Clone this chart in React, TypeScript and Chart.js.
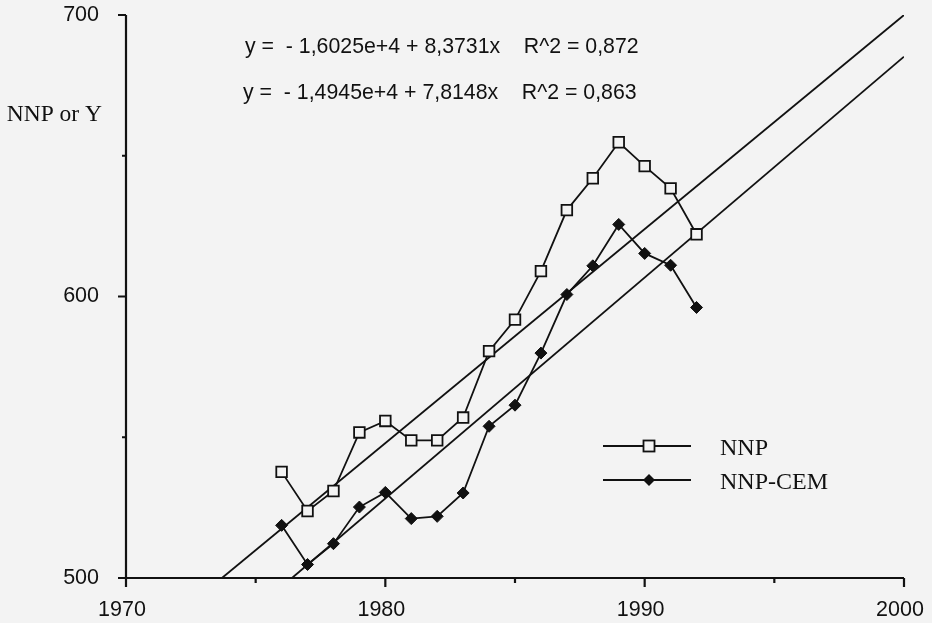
import React, { useEffect, useRef } from "react";
import { Chart, registerables } from "chart.js";

Chart.register(...registerables);

// ---- data ----
const years = [1976, 1977, 1978, 1979, 1980, 1981, 1982, 1983, 1984, 1985, 1986, 1987, 1988, 1989, 1990, 1991, 1992];
const nnp = [537.7, 523.8, 530.9, 551.7, 555.8, 548.9, 548.9, 557.0, 580.6, 591.8, 609.0, 630.7, 642.0, 654.8, 646.3, 638.4, 622.1];
const nnpCem = [518.7, 504.8, 512.2, 525.2, 530.4, 521.1, 521.9, 530.2, 553.9, 561.4, 579.9, 600.7, 610.9, 625.6, 615.3, 611.1, 596.1];
const trendNnpYears = [1973.7, 2000];
const trendNnpValues = [500, 700];
const trendCemYears = [1976.4, 2000];
const trendCemValues = [500, 685.2];
const xMajorTicks = [1970, 1980, 1990, 2000];
const xMinorTicks = [1975, 1985, 1995];
const yMajorTicks = [500, 600, 700];
const yMinorTicks = [550, 650];
const equations = [
  "y =  - 1,6025e+4 + 8,3731x    R^2 = 0,872",
  "y =  - 1,4945e+4 + 7,8148x    R^2 = 0,863",
];
const yAxisTitle = "NNP or Y";
const seriesNames = ["NNP", "NNP-CEM"];

const BG = "#f3f3f3";
const INK = "#111111";
const SANS = "Arial, 'Liberation Sans', sans-serif";
const SERIF = "'Times New Roman', 'Liberation Serif', serif";

const toXY = (xs: number[], ys: number[]) => xs.map((x, i) => ({ x, y: ys[i] }));

const decorPlugin = {
  id: "decor",
  afterDraw(chart: any) {
    const ctx: CanvasRenderingContext2D = chart.ctx;
    const xs = chart.scales.x;
    const ys = chart.scales.y;
    const { left, right, top, bottom } = chart.chartArea;
    ctx.save();
    ctx.strokeStyle = INK;
    ctx.fillStyle = INK;
    ctx.lineWidth = 2.2;
    // axes
    ctx.beginPath();
    ctx.moveTo(left, top);
    ctx.lineTo(left, bottom);
    ctx.lineTo(right, bottom);
    ctx.stroke();
    // y ticks
    ctx.beginPath();
    yMajorTicks.forEach((v) => {
      const py = ys.getPixelForValue(v);
      ctx.moveTo(left - 8, py);
      ctx.lineTo(left, py);
    });
    yMinorTicks.forEach((v) => {
      const py = ys.getPixelForValue(v);
      ctx.moveTo(left - 4, py);
      ctx.lineTo(left, py);
    });
    // x ticks
    xMajorTicks.forEach((v) => {
      const px = xs.getPixelForValue(v);
      ctx.moveTo(px, bottom);
      ctx.lineTo(px, bottom + 9);
    });
    xMinorTicks.forEach((v) => {
      const px = xs.getPixelForValue(v);
      ctx.moveTo(px, bottom);
      ctx.lineTo(px, bottom + 5);
    });
    ctx.stroke();

    // tick labels
    ctx.font = `21.5px ${SANS}`;
    ctx.textBaseline = "middle";
    ctx.textAlign = "right";
    yMajorTicks.forEach((v) => {
      ctx.fillText(String(v), left - 27, ys.getPixelForValue(v));
    });
    ctx.textAlign = "center";
    xMajorTicks.forEach((v) => {
      ctx.fillText(String(v), xs.getPixelForValue(v) - 4, bottom + 32);
    });

    // y title
    ctx.font = `23.5px ${SERIF}`;
    ctx.textAlign = "right";
    ctx.fillText(yAxisTitle, 102, 115);

    // equations
    ctx.font = `21.3px ${SANS}`;
    ctx.textAlign = "left";
    ctx.fillText(equations[0], 245, 47);
    ctx.fillText(equations[1], 243, 93);

    // legend
    const legY = [446, 480];
    ctx.lineWidth = 1.8;
    legY.forEach((ly, i) => {
      ctx.strokeStyle = INK;
      ctx.beginPath();
      ctx.moveTo(603, ly);
      ctx.lineTo(691, ly);
      ctx.stroke();
      if (i === 0) {
        ctx.fillStyle = BG;
        ctx.fillRect(643.5, ly - 5.5, 11, 11);
        ctx.strokeRect(643.5, ly - 5.5, 11, 11);
      } else {
        ctx.fillStyle = INK;
        ctx.beginPath();
        ctx.moveTo(649, ly - 6);
        ctx.lineTo(655, ly);
        ctx.lineTo(649, ly + 6);
        ctx.lineTo(643, ly);
        ctx.closePath();
        ctx.fill();
      }
      ctx.fillStyle = INK;
      ctx.font = `24px ${SERIF}`;
      ctx.textAlign = "left";
      ctx.fillText(seriesNames[i], 720, ly + 3);
    });
    ctx.restore();
  },
};

const bgPlugin = {
  id: "bg",
  beforeDraw(chart: any) {
    const ctx = chart.ctx;
    ctx.save();
    ctx.fillStyle = BG;
    ctx.fillRect(0, 0, chart.width, chart.height);
    ctx.restore();
  },
};

export default function App() {
  const ref = useRef<HTMLCanvasElement | null>(null);
  useEffect(() => {
    document.body.style.margin = "0";
    document.body.style.background = BG;
    if (!ref.current) return;
    const chart = new Chart(ref.current, {
      type: "line",
      data: {
        datasets: [
          {
            label: "trend NNP",
            data: toXY(trendNnpYears, trendNnpValues),
            borderColor: INK,
            borderWidth: 1.8,
            pointRadius: 0,
            order: 3,
          },
          {
            label: "trend NNP-CEM",
            data: toXY(trendCemYears, trendCemValues),
            borderColor: INK,
            borderWidth: 1.8,
            pointRadius: 0,
            order: 3,
          },
          {
            label: seriesNames[1],
            data: toXY(years, nnpCem),
            borderColor: INK,
            borderWidth: 1.8,
            pointStyle: "rectRot",
            pointRadius: 6,
            pointBackgroundColor: INK,
            pointBorderColor: INK,
            pointBorderWidth: 1,
            order: 2,
          },
          {
            label: seriesNames[0],
            data: toXY(years, nnp),
            borderColor: INK,
            borderWidth: 1.8,
            pointStyle: "rect",
            pointRadius: 7.5,
            pointBackgroundColor: BG,
            pointBorderColor: INK,
            pointBorderWidth: 1.8,
            order: 1,
          },
        ],
      },
      options: {
        responsive: false,
        animation: false,
        devicePixelRatio: 1,
        layout: { padding: { left: 126, right: 28, top: 15, bottom: 45 } },
        plugins: { legend: { display: false }, tooltip: { enabled: false } },
        elements: { line: { tension: 0 } },
        scales: {
          x: { type: "linear", min: 1970, max: 2000, display: false },
          y: { type: "linear", min: 500, max: 700, display: false },
        },
      },
      plugins: [bgPlugin, decorPlugin],
    });
    return () => chart.destroy();
  }, []);
  return (
    <div style={{ position: "absolute", left: 0, top: 0, width: 932, height: 623, background: BG }}>
      <canvas ref={ref} width={932} height={623} style={{ width: 932, height: 623, display: "block" }} />
    </div>
  );
}
